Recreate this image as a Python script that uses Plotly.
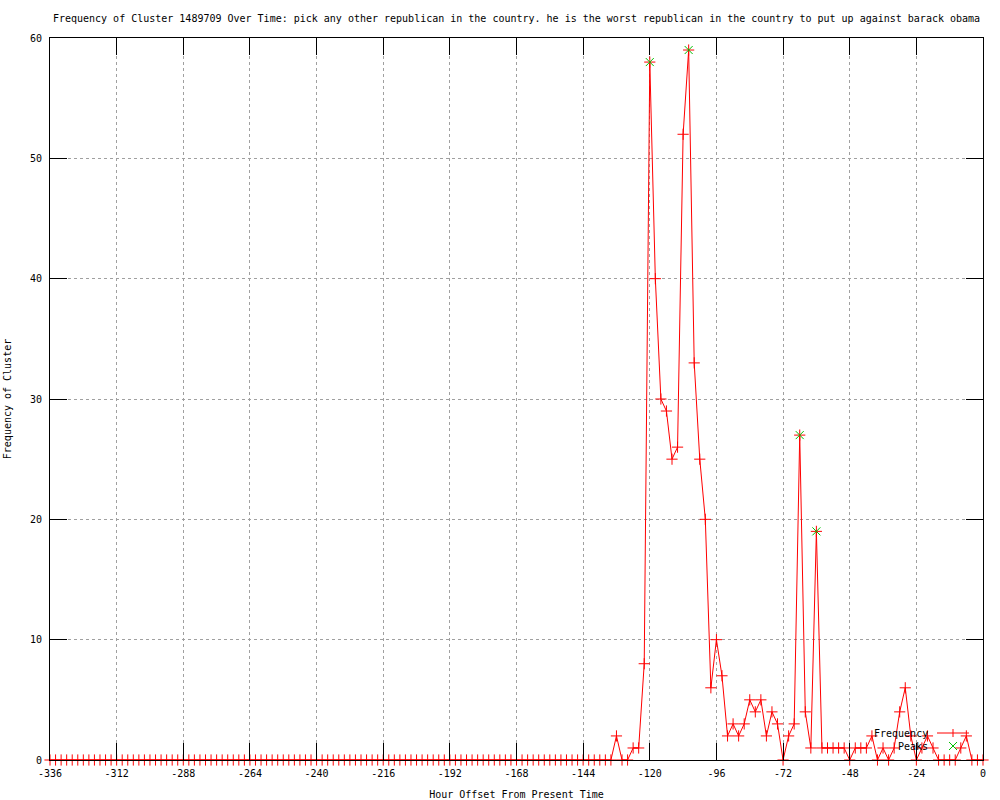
import plotly.graph_objects as go

# ---- data ----
hours = list(range(-336, 1, 2))

freq_before = [0] * 102  # hours -336 .. -134, all at zero in the picture
freq_after = [
    2, 0, 0, 1, 1, 8,                 # -132 .. -122
    58, 40, 30, 29, 25, 26,           # -120 .. -110
    52, 59, 33, 25, 20, 6,            # -108 .. -98
    10, 7, 2, 3, 2, 3,                # -96 .. -86
    5, 4, 5, 2, 4, 3,                 # -84 .. -74
    0, 2, 3, 27, 4, 1,                # -72 .. -62
    19, 1, 1, 1, 1, 1,                # -60 .. -50
    0, 1, 1, 1, 2, 0,                 # -48 .. -38
    1, 0, 1, 4, 6, 2,                 # -36 .. -26
    0, 1, 2, 1, 0, 0,                 # -24 .. -14
    0, 0, 1, 2, 0, 0,                 # -12 .. -2
    0,                                # 0
]
frequency = freq_before + freq_after

peak_hours = [-120, -106, -66, -60]
peak_values = [58, 59, 27, 19]

x_ticks = list(range(-336, 1, 24))
y_ticks = [0, 10, 20, 30, 40, 50, 60]

title_text = ("Frequency of Cluster 1489709 Over Time: pick any other republican in the country. "
              "he is the worst republican in the country to put up against barack obama")

FONT = "DejaVu Sans Mono"
RED = "#ff0000"
GREEN = "#00c000"

fig = go.Figure()
fig.add_trace(go.Scatter(
    x=hours, y=frequency, mode="lines+markers", name="Frequency",
    line=dict(color=RED, width=1),
    marker=dict(symbol="cross-thin", size=8, line=dict(color=RED, width=1)),
    cliponaxis=False, showlegend=False,
))
fig.add_trace(go.Scatter(
    x=peak_hours, y=peak_values, mode="markers", name="Peaks",
    marker=dict(symbol="x-thin", size=8, line=dict(color=GREEN, width=1)),
    cliponaxis=False, showlegend=False,
))

axis_common = dict(
    showline=True, linecolor="black", linewidth=1, mirror="ticks",
    ticks="inside", ticklen=17, tickcolor="black", tickwidth=1,
    showgrid=True, gridcolor="#a0a0a0", griddash="dot", gridwidth=1,
    zeroline=False, automargin=False,
    tickfont=dict(family=FONT, size=10, color="black"),
)

fig.update_layout(
    width=1000, height=800,
    margin=dict(l=50, r=17, t=38, b=40),
    paper_bgcolor="white", plot_bgcolor="white",
    font=dict(family=FONT, size=10, color="black"),
    title=dict(text=title_text, x=0.5, xref="paper", y=1 - 18 / 800, yref="container",
               yanchor="middle", pad=dict(t=0, b=0),
               font=dict(family=FONT, size=10, color="black")),
    xaxis=dict(range=[-336, 0], tickvals=x_ticks, ticktext=[str(v) for v in x_ticks],
               ticklabelstandoff=4,
               title=dict(text="Hour Offset From Present Time", standoff=17,
                          font=dict(family=FONT, size=10)),
               **axis_common),
    yaxis=dict(range=[0, 60], tickvals=y_ticks, ticklabelstandoff=5,
               title=dict(text="Frequency of Cluster", standoff=16,
                          font=dict(family=FONT, size=10)),
               **axis_common),
)

# ---- legend drawn gnuplot-style (text left, sample right) ----
def px_x(p):
    return (p - 50) / 933

def px_y(p):
    return (760 - p) / 722

leg_text_x = px_x(930)
for label, py in (("Frequency", 733), ("Peaks", 746)):
    fig.add_annotation(x=leg_text_x, y=px_y(py), xref="paper", yref="paper",
                       text=label, showarrow=False, xanchor="right", yanchor="middle",
                       font=dict(family=FONT, size=10, color="black"))

fig.add_shape(type="line", xref="paper", yref="paper",
              x0=px_x(937), x1=px_x(969), y0=px_y(733), y1=px_y(733),
              line=dict(color=RED, width=1))
cx = px_x(953)
# red "+" sample
fig.add_shape(type="line", xref="paper", yref="paper", xsizemode="pixel", ysizemode="pixel",
              xanchor=cx, yanchor=px_y(733), x0=0, x1=0, y0=-4, y1=4, line=dict(color=RED, width=1))
# green "x" sample
fig.add_shape(type="line", xref="paper", yref="paper", xsizemode="pixel", ysizemode="pixel",
              xanchor=cx, yanchor=px_y(746), x0=-4, x1=4, y0=-4, y1=4, line=dict(color=GREEN, width=1))
fig.add_shape(type="line", xref="paper", yref="paper", xsizemode="pixel", ysizemode="pixel",
              xanchor=cx, yanchor=px_y(746), x0=-4, x1=4, y0=4, y1=-4, line=dict(color=GREEN, width=1))

fig.write_html("out.html", config={"displayModeBar": False},
               post_script="document.body.style.margin='0';document.body.style.padding='0';")
